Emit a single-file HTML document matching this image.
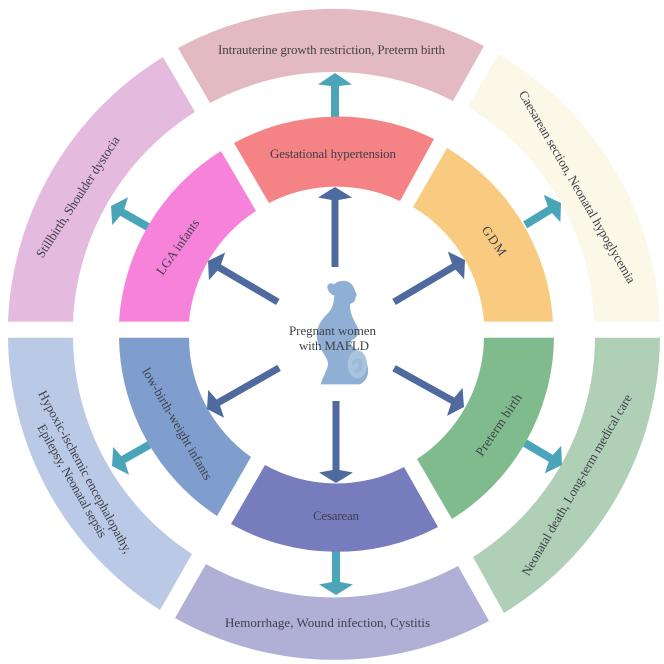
<!DOCTYPE html>
<html>
<head>
<meta charset="utf-8">
<style>
html,body{margin:0;padding:0;background:#fff;width:664px;height:664px;overflow:hidden}
svg{display:block}
text{font-family:"Liberation Serif",serif;font-size:13px;fill:#3f3f4a;text-anchor:middle}
</style>
</head>
<body>
<svg width="664" height="664" viewBox="0 0 664 664" xmlns="http://www.w3.org/2000/svg">
<defs><filter id="soft" x="0" y="0" width="100%" height="100%"><feGaussianBlur stdDeviation="0.35"/></filter></defs>
<rect width="664" height="664" fill="#fff"/>
<g filter="url(#soft)">

<!-- outer ring -->
<path fill="#e3bac1" d="M178 48A326 326 0 0 1 484 46L453 101A261 261 0 0 0 210 103Z"/>
<path fill="#e4bbdf" d="M8 321.6A326 326 0 0 1 163 57L195 112A261 261 0 0 0 73 321.6Z"/>
<path fill="#fbf8e7" d="M498 54A326 326 0 0 1 660 321.6L594 321.6A261 261 0 0 0 468 107Z"/>
<path fill="#b9c9e6" d="M8 337.7A326 326 0 0 0 160 610L192 554A261 261 0 0 1 73 337.7Z"/>
<path fill="#b0afd6" d="M175 618A326 326 0 0 0 489 621L458 566A261 261 0 0 1 206 564Z"/>
<path fill="#afcfb6" d="M660 337.7A326 326 0 0 1 504 613L473 557A261 261 0 0 0 595 337.7Z"/>

<!-- teal arrows -->
<g fill="#4ca5b9">
<polygon transform="translate(335 73) rotate(-90)" points="0,0 -11.5,-17 -13,-4 -44,-4 -44,4 -13,4 -11.5,17"/>
<polygon transform="translate(111 206) rotate(209.6)" points="0,0 -10.5,-16 -13,-4 -43,-4 -43,4 -13,4 -10.5,16"/>
<polygon transform="translate(561 203) rotate(-31.4)" points="0,0 -10.5,-16 -13,-4 -42,-4 -42,4 -13,4 -10.5,16"/>
<polygon transform="translate(112 466) rotate(150.4)" points="0,0 -10.5,-16 -13,-4 -43,-4 -43,4 -13,4 -10.5,16"/>
<polygon transform="translate(562 465) rotate(30.7)" points="0,0 -10.5,-16 -13,-4 -43,-4 -43,4 -13,4 -10.5,16"/>
<polygon transform="translate(336 595) rotate(90)" points="0,0 -10.5,-17 -13,-4 -44,-4 -44,4 -13,4 -10.5,17"/>
</g>

<!-- inner ring -->
<path fill="#f58284" d="M234 143A217 217 0 0 1 434 139L400 201A147 147 0 0 0 269 203Z"/>
<path fill="#f682da" d="M119 321.6A217 217 0 0 1 221 151L256 211A147 147 0 0 0 189 321.6Z"/>
<path fill="#f9cb80" d="M447 148A217 217 0 0 1 553 321.6L484 321.6A147 147 0 0 0 413 207Z"/>
<path fill="#7f9ecd" d="M119 337.7A217 217 0 0 0 217 516L251 457A147 147 0 0 1 189 337.7Z"/>
<path fill="#777cbc" d="M231 524A217 217 0 0 0 438 527L404 467A147 147 0 0 1 265 465Z"/>
<path fill="#7fbb8c" d="M554 337.7A217 217 0 0 1 452 519L417 459A147 147 0 0 0 484 337.7Z"/>

<!-- dark arrows -->
<g fill="#4f6a9e">
<polygon transform="translate(335 187) rotate(-90)" points="0,0 -10.5,-17 -13,-3.5 -80,-3.5 -80,3.5 -13,3.5 -10.5,17"/>
<polygon transform="translate(208 261) rotate(210.4)" points="0,0 -10.5,-16 -13,-3.5 -81,-3.5 -81,3.5 -13,3.5 -10.5,16"/>
<polygon transform="translate(465 260) rotate(-30.6)" points="0,0 -10.5,-16 -13,-3.5 -82.5,-3.5 -82.5,3.5 -13,3.5 -10.5,16"/>
<polygon transform="translate(207 409) rotate(150.3)" points="0,0 -10.5,-16 -13,-3.5 -83,-3.5 -83,3.5 -13,3.5 -10.5,16"/>
<polygon transform="translate(464 407) rotate(29)" points="0,0 -10.5,-16 -13,-3.5 -80,-3.5 -80,3.5 -13,3.5 -10.5,16"/>
<polygon transform="translate(336 483) rotate(90)" points="0,0 -10.5,-17 -13,-3.5 -82,-3.5 -82,3.5 -13,3.5 -10.5,17"/>
</g>

<!-- pregnant silhouette -->
<g transform="translate(300 275) scale(.33333)">
<path fill="#8fb0d4" d="M62 328C68 305 82 285 84 268C85 255 72 238 62 222C52 205 48 185 52 165C58 140 74 125 88 110C98 98 102 82 103 62C92 58 82 48 82 36C82 26 92 22 102 28C110 20 124 16 136 18C152 20 163 34 165 48C170 56 172 60 168 64C166 70 166 78 160 82C154 84 150 86 150 92C150 110 158 130 168 148C176 160 178 172 172 182C166 192 152 196 150 202C152 212 170 224 184 238C200 254 206 276 204 294C202 310 192 322 180 328Z"/>
<ellipse cx="172" cy="268" rx="29" ry="42" fill="#a9c4dd"/>
<path fill="#8fb0d4" fill-opacity=".55" d="M156 264C158 248 182 246 188 262C192 276 184 290 172 296C166 298 160 292 164 284C170 280 178 276 176 268C172 260 164 262 162 270C160 274 156 270 156 264Z"/>
</g>

<!-- labels -->
<text x="331.5" y="54" textLength="227" lengthAdjust="spacing">Intrauterine growth restriction, Preterm birth</text>
<text x="333" y="158" textLength="126" lengthAdjust="spacing">Gestational hypertension</text>
<text transform="translate(78 197) rotate(-57)" y="4" textLength="142" lengthAdjust="spacing">Stillbirth, Shoulder dystocia</text>
<text transform="translate(178 247) rotate(-55)" y="4" textLength="65" lengthAdjust="spacing">LGA infants</text>
<text transform="translate(494 241) rotate(55)" y="4" textLength="33" lengthAdjust="spacing">GDM</text>
<text transform="translate(577 187) rotate(60)" y="4" textLength="220" lengthAdjust="spacing">Caesarean section,  Neonatal hypoglycemia</text>
<text transform="translate(177 424) rotate(60)" y="4" textLength="127" lengthAdjust="spacing">low-birth-weight infants</text>
<text transform="translate(85 472) rotate(61.6)" y="4" textLength="183" lengthAdjust="spacing">Hypoxic-ischemic encephalopathy,</text>
<text transform="translate(72 481) rotate(60.5)" y="4" textLength="128" lengthAdjust="spacing">Epilepsy, Neonatal sepsis</text>
<text x="327.5" y="627" textLength="205" lengthAdjust="spacing">Hemorrhage,  Wound infection, Cystitis</text>
<text x="336" y="520" textLength="46" lengthAdjust="spacing">Cesarean</text>
<text transform="translate(499 425) rotate(-56)" y="4" textLength="72" lengthAdjust="spacing">Preterm birth</text>
<text transform="translate(577 485) rotate(-60)" y="4" textLength="207" lengthAdjust="spacing">Neonatal death, Long-term medical care</text>
<text x="332.5" y="335" textLength="87" lengthAdjust="spacing">Pregnant women</text>
<text x="334" y="350" textLength="70" lengthAdjust="spacing">with MAFLD</text>
</g>
</svg>
</body>
</html>
